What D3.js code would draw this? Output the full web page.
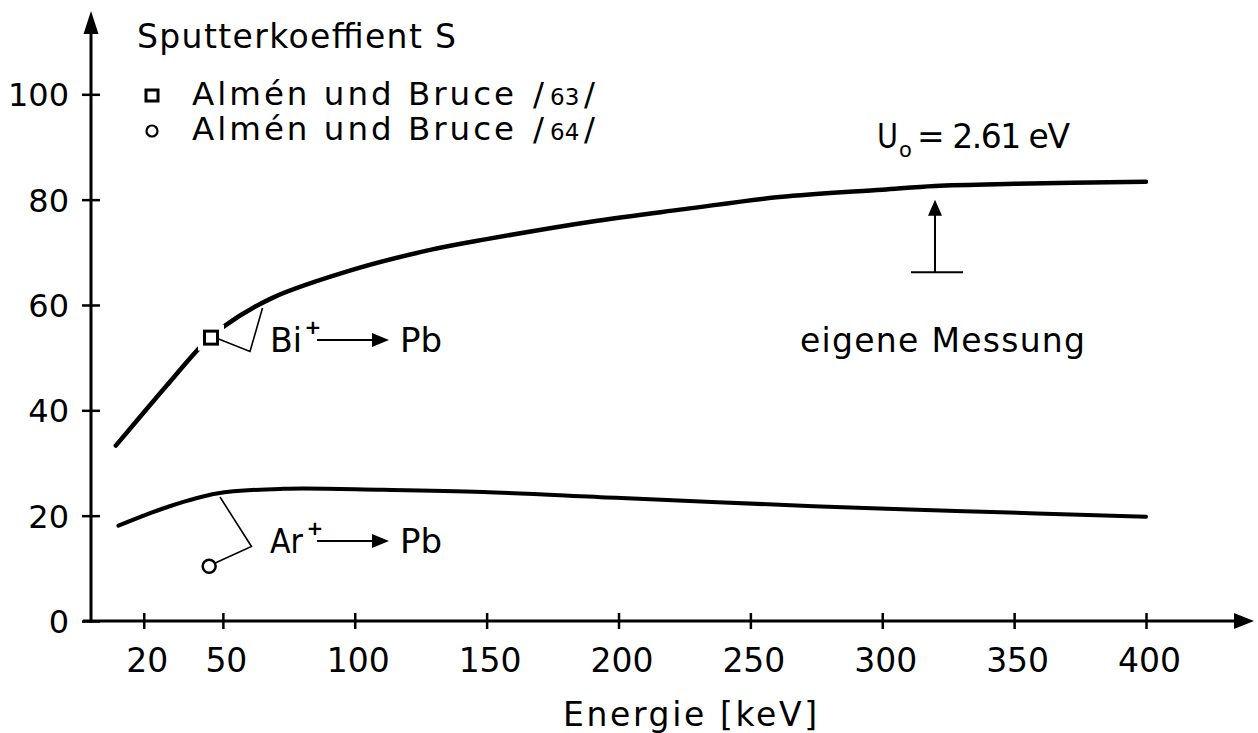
<!DOCTYPE html>
<html>
<head>
<meta charset="utf-8">
<script src="https://cdn.jsdelivr.net/npm/d3@7"></script>
<style>
  html, body { margin: 0; padding: 0; background: #fff; }
  svg { display: block; }
  text { font-family: "DejaVu Sans", sans-serif; fill: #000; }
</style>
</head>
<body>
<svg id="chart" width="1258" height="733"></svg>
<script>
// Sputter yield S versus ion energy for Bi+ and Ar+ on Pb
const biEnergy = [9.4, 22.4, 28.7, 41.8, 50, 69, 100, 129, 150, 192, 225, 261, 300, 320, 350, 400];
const biYield  = [33.3, 41.0, 44.7, 52.2, 55.8, 61.4, 66.8, 70.5, 72.5, 76, 78.2, 80.5, 81.9, 82.6, 83.0, 83.4];

const arEnergy = [10.4, 28.7, 47.7, 72.9, 110.8, 148.7, 199, 274, 328, 400];
const arYield  = [18.1, 21.6, 24.2, 25.1, 24.9, 24.5, 23.4, 21.8, 20.9, 19.8];

// Reference measurements (Almén und Bruce)
const ref63 = [{ e: 45.5, s: 53.8 }];
const ref64 = [{ e: 44.8, s: 10.4 }];

// Own measurement marker
const ownEnergy = 320;
const ownFrom = 66.2, ownTo = 80.0;

const xTicks = [20, 50, 100, 150, 200, 250, 300, 350, 400];
const yTicks = [0, 20, 40, 60, 80, 100];

const svg = d3.select("#chart");
const x = d3.scaleLinear().domain([0, 400]).range([91, 1146]);
const y = d3.scaleLinear().domain([0, 100]).range([621, 94.3]);

// axes lines with arrowheads
const ax = svg.append("g");
ax.append("line").attr("x1", 83).attr("y1", y(0)).attr("x2", 1236).attr("y2", y(0))
  .attr("stroke", "#000").attr("stroke-width", 3);
ax.append("path").attr("d", `M1254,${y(0)} L1234,${y(0) - 8} L1234,${y(0) + 8} Z`).attr("fill", "#000");
ax.append("line").attr("x1", x(0)).attr("y1", y(0) + 1.5).attr("x2", x(0)).attr("y2", 30)
  .attr("stroke", "#000").attr("stroke-width", 3);
ax.append("path").attr("d", `M${x(0)},11 L${x(0) - 7.5},34 L${x(0) + 7.5},34 Z`).attr("fill", "#000");

// x axis ticks and labels
const xAxis = d3.axisBottom(x).tickValues(xTicks).tickSize(0).tickPadding(0);
const gx = svg.append("g").attr("transform", `translate(0,${y(0)})`).call(xAxis);
gx.select(".domain").remove();
gx.selectAll(".tick line").attr("y1", -8).attr("y2", 8).attr("stroke", "#000").attr("stroke-width", 2.5);
gx.selectAll(".tick text").attr("y", 51).attr("dy", null).attr("dx", 3)
  .style("font-family", "DejaVu Sans").style("font-size", "33px").attr("fill", "#000");

// y axis ticks and labels
const yAxis = d3.axisLeft(y).tickValues(yTicks).tickSize(0).tickPadding(0);
const gy = svg.append("g").attr("transform", `translate(${x(0)},0)`).call(yAxis);
gy.select(".domain").remove();
gy.selectAll(".tick line").attr("x1", -9).attr("x2", 9).attr("stroke", "#000").attr("stroke-width", 2.5);
gy.selectAll(".tick text").attr("x", -22).attr("dy", "0.36em")
  .style("font-family", "DejaVu Sans").style("font-size", "32px").attr("fill", "#000");

// curves
const line = d3.line().x(d => x(d[0])).y(d => y(d[1])).curve(d3.curveCatmullRom.alpha(0.5));
const biData = biEnergy.map((e, i) => [e, biYield[i]]);
const arData = arEnergy.map((e, i) => [e, arYield[i]]);
svg.append("path").attr("d", line(biData)).attr("fill", "none").attr("stroke", "#000")
  .attr("stroke-width", 4.5).attr("stroke-linecap", "round");
svg.append("path").attr("d", line(arData)).attr("fill", "none").attr("stroke", "#000")
  .attr("stroke-width", 4).attr("stroke-linecap", "round");

// reference points; the square sits in a break of the curve
const sq = 13;
svg.selectAll(".ref63halo").data(ref63).join("rect")
  .attr("x", d => x(d.e) - 13).attr("y", d => y(d.s) - 13).attr("width", 26).attr("height", 26)
  .attr("fill", "#fff");
svg.selectAll(".ref63").data(ref63).join("rect")
  .attr("x", d => x(d.e) - sq / 2).attr("y", d => y(d.s) - sq / 2).attr("width", sq).attr("height", sq)
  .attr("fill", "#fff").attr("stroke", "#000").attr("stroke-width", 3);
svg.selectAll(".ref64").data(ref64).join("circle")
  .attr("cx", d => x(d.e)).attr("cy", d => y(d.s)).attr("r", 6.5)
  .attr("fill", "#fff").attr("stroke", "#000").attr("stroke-width", 2.5);

// leader lines
const leader = (pts) => svg.append("polyline").attr("points", pts.map(p => p.join(",")).join(" "))
  .attr("fill", "none").attr("stroke", "#000").attr("stroke-width", 1.6);
leader([[x(ref63[0].e) + 7, y(ref63[0].s) + 1], [250, 351.5], [262.5, 308]]);
leader([[x(ref64[0].e) + 5.5, y(ref64[0].s) - 3], [251.5, 546.5], [220, 497]]);

// reaction labels
function reaction(xp, base, ion, ionLen, plusX) {
  const g = svg.append("g");
  g.append("text").attr("x", xp).attr("y", base).style("font-size", "34px")
    .attr("textLength", ionLen).attr("lengthAdjust", "spacingAndGlyphs").text(ion);
  g.append("text").attr("x", xp + plusX).attr("y", base - 18).attr("text-anchor", "middle")
    .style("font-size", "20px").style("font-weight", "bold").text("+");
  g.append("line").attr("x1", xp + 47).attr("y1", base - 12).attr("x2", xp + 104).attr("y2", base - 12)
    .attr("stroke", "#000").attr("stroke-width", 2);
  g.append("path").attr("d", `M${xp + 119},${base - 12} L${xp + 102},${base - 19} L${xp + 102},${base - 5} Z`).attr("fill", "#000");
  g.append("text").attr("x", xp + 130).attr("y", base).style("font-size", "34px").text("Pb");
}
reaction(270, 352, "Bi", 32, 43);
reaction(270, 553, "Ar", 33, 45);

// own measurement arrow
const ox = x(ownEnergy);
svg.append("line").attr("x1", ox).attr("y1", y(ownFrom)).attr("x2", ox).attr("y2", y(ownTo) + 14)
  .attr("stroke", "#000").attr("stroke-width", 2);
svg.append("path").attr("d", `M${ox},${y(ownTo)} L${ox - 7},${y(ownTo) + 16} L${ox + 7},${y(ownTo) + 16} Z`).attr("fill", "#000");
svg.append("line").attr("x1", ox - 24).attr("y1", y(ownFrom)).attr("x2", ox + 28).attr("y2", y(ownFrom))
  .attr("stroke", "#000").attr("stroke-width", 2);

svg.append("text").attr("x", 800).attr("y", 352).style("font-size", "33px")
  .attr("textLength", 285).attr("lengthAdjust", "spacing").text("eigene Messung");

// U0 label
svg.append("text").attr("x", 877).attr("y", 148).style("font-size", "33px")
  .attr("textLength", 21).attr("lengthAdjust", "spacingAndGlyphs").text("U");
svg.append("text").attr("x", 899).attr("y", 157).style("font-size", "21px").text("o");
svg.append("text").attr("x", 917).attr("y", 148).style("font-size", "33px")
  .attr("textLength", 153).attr("lengthAdjust", "spacing").text("= 2.61 eV");

// title and legend
svg.append("text").attr("x", 137).attr("y", 48).style("font-size", "33px")
  .attr("textLength", 319).attr("lengthAdjust", "spacing").text("Sputterkoeffient S");

svg.append("rect").attr("x", 146).attr("y", 90).attr("width", 12).attr("height", 11)
  .attr("fill", "#fff").attr("stroke", "#000").attr("stroke-width", 3);
svg.append("circle").attr("cx", 152).attr("cy", 131).attr("r", 5.5)
  .attr("fill", "#fff").attr("stroke", "#000").attr("stroke-width", 2.2);

function legendText(base, num) {
  svg.append("text").attr("x", 192).attr("y", base).style("font-size", "32.5px")
    .attr("textLength", 322).attr("lengthAdjust", "spacing").text("Almén  und Bruce");
  svg.append("text").attr("x", 533).attr("y", base).style("font-size", "32.5px").text("/");
  svg.append("text").attr("x", 550).attr("y", base).style("font-size", "23px").text(num);
  svg.append("text").attr("x", 584).attr("y", base).style("font-size", "32.5px").text("/");
}
legendText(105, "63");
legendText(140, "64");

// axis title
svg.append("text").attr("x", 563).attr("y", 726).style("font-size", "33px")
  .attr("textLength", 254).attr("lengthAdjust", "spacing").text("Energie  [keV]");
</script>
</body>
</html>
